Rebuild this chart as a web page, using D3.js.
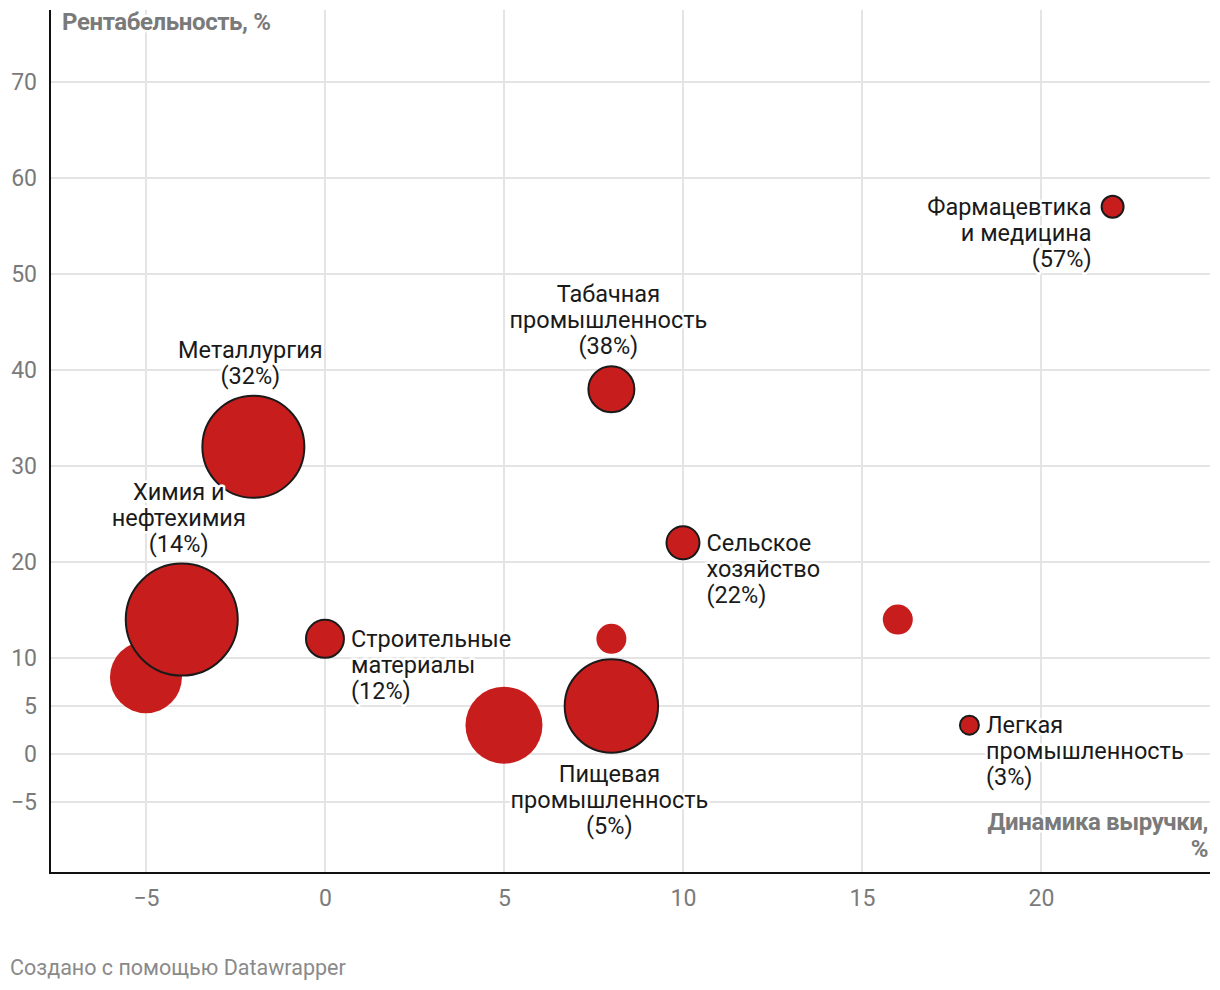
<!DOCTYPE html>
<html>
<head>
<meta charset="utf-8">
<script src="https://cdn.jsdelivr.net/npm/d3@7"></script>
<style>
  html, body { margin: 0; padding: 0; background: #fff; }
  svg { display: block; font-family: Roboto, "Noto Sans", sans-serif; }
</style>
</head>
<body>
<svg id="chart" width="1220" height="990"></svg>
<script>
// ---- data ----
const industries = ["Фармацевтика и медицина", "Табачная промышленность", "Металлургия", "Химия и нефтехимия",
  "", "Строительные материалы", "", "Пищевая промышленность", "", "Сельское хозяйство", "", "Легкая промышленность"];
const revenueGrowth = [22, 8, -2, -4, -5, 0, 5, 8, 8, 10, 16, 18];
const profitability = [57, 38, 32, 14, 8, 12, 3, 5, 12, 22, 14, 3];
const bubbleSize = [121, 529, 2601, 3136, 1296, 361, 1482, 2180, 225, 272, 225, 90];
const labelLines = [
  ["Фармацевтика", "и медицина", "(57%)"],
  ["Табачная", "промышленность", "(38%)"],
  ["Металлургия", "(32%)"],
  ["Химия и", "нефтехимия", "(14%)"],
  [],
  ["Строительные", "материалы", "(12%)"],
  [],
  ["Пищевая", "промышленность", "(5%)"],
  [],
  ["Сельское", "хозяйство", "(22%)"],
  [],
  ["Легкая", "промышленность", "(3%)"]
];
const labelSide = ["left", "top", "top", "top", "", "right", "", "bottom", "", "right", "", "right"];
const xTicks = [-5, 0, 5, 10, 15, 20];
const yTicks = [-5, 0, 5, 10, 20, 30, 40, 50, 60, 70];
const yTitle = "Рентабельность, %";
const xTitleLines = ["Динамика выручки,", "%"];
const footer = "Создано с помощью Datawrapper";

// ---- layout ----
const svg = d3.select("#chart");
const x = d3.scaleLinear().domain([-7.68, 24.72]).range([50, 1210]);
const y = d3.scaleLinear().domain([-12.4, 77.5]).range([873, 10]);
const r = d3.scaleSqrt().domain([0, 3136]).range([0, 56]);
const red = "#c71e1d";
const grid = "#e4e4e4";
const gray = "#7a7a7a";

const data = industries.map((name, i) => ({
  name, gx: revenueGrowth[i], py: profitability[i], size: bubbleSize[i],
  lines: labelLines[i], side: labelSide[i]
}));

// grid
svg.append("g").selectAll("line").data(yTicks).join("line")
  .attr("x1", 50).attr("x2", 1210)
  .attr("y1", d => y(d)).attr("y2", d => y(d))
  .attr("stroke", grid).attr("stroke-width", 2);
svg.append("g").selectAll("line").data(xTicks).join("line")
  .attr("x1", d => x(d)).attr("x2", d => x(d))
  .attr("y1", 10).attr("y2", 873)
  .attr("stroke", grid).attr("stroke-width", 2);

// y axis
const yAxis = d3.axisLeft(y).tickValues(yTicks).tickSize(0).tickPadding(13)
  .tickFormat(d => d < 0 ? "\u2212" + Math.abs(d) : d);
const gy = svg.append("g").attr("transform", "translate(50,0)").call(yAxis);
gy.select(".domain").remove();
gy.selectAll("text").attr("font-size", 23).attr("fill", gray).attr("font-family", "Roboto");

// x axis
const xAxis = d3.axisBottom(x).tickValues(xTicks).tickSize(0).tickPadding(17)
  .tickFormat(d => d < 0 ? "\u2212" + Math.abs(d) : d);
const gx = svg.append("g").attr("transform", "translate(0,873)").call(xAxis);
gx.select(".domain").remove();
gx.selectAll("text").attr("font-size", 23).attr("fill", gray).attr("font-family", "Roboto");

// axis lines
svg.append("line").attr("x1", 50).attr("x2", 50).attr("y1", 10).attr("y2", 874)
  .attr("stroke", "#111").attr("stroke-width", 2);
svg.append("line").attr("x1", 49).attr("x2", 1210).attr("y1", 873).attr("y2", 873)
  .attr("stroke", "#111").attr("stroke-width", 2);

// bubbles: unlabeled first, then labeled
const ordered = data.filter(d => !d.lines.length).concat(data.filter(d => d.lines.length));
svg.append("g").selectAll("circle").data(ordered).join("circle")
  .attr("cx", d => x(d.gx)).attr("cy", d => y(d.py)).attr("r", d => r(d.size))
  .attr("fill", red)
  .attr("stroke", d => d.lines.length ? "#1a1a1a" : "none")
  .attr("stroke-width", 2);

// labels
const lh = 26;
const lab = svg.append("g").attr("font-size", 23.5).attr("fill", "#1a1a1a");
data.filter(d => d.lines.length).forEach(d => {
  const cx = x(d.gx), cy = y(d.py), rr = r(d.size);
  let ax, ay, anchor;
  const n = d.lines.length;
  if (d.side === "right") { ax = cx + rr + 7; ay = cy; anchor = "start"; }
  else if (d.side === "left") { ax = cx - rr - 10; ay = cy; anchor = "end"; }
  else if (d.side === "top") { ax = cx - 3; ay = cy - rr - 20 - (n - 1) * lh; anchor = "middle"; }
  else { ax = cx - 2; ay = cy + rr + 21; anchor = "middle"; }
  const t = lab.append("text").attr("text-anchor", anchor)
    .attr("stroke", "#fff").attr("stroke-width", 5).attr("stroke-linejoin", "round")
    .attr("paint-order", "stroke");
  d.lines.forEach((ln, i) => {
    t.append("tspan").attr("x", ax).attr("y", ay + i * lh).attr("dy", "0.35em").text(ln);
  });
});

// titles
svg.append("text").attr("x", 62).attr("y", 22).attr("dy", "0.35em")
  .attr("font-size", 24).attr("font-weight", "bold").attr("fill", gray)
  .attr("stroke", "#fff").attr("stroke-width", 5).attr("paint-order", "stroke")
  .attr("letter-spacing", "-0.4px")
  .text(yTitle);
const xt = svg.append("text").attr("text-anchor", "end")
  .attr("font-size", 24).attr("font-weight", "bold").attr("fill", gray)
  .attr("stroke", "#fff").attr("stroke-width", 5).attr("paint-order", "stroke")
  .attr("letter-spacing", "-0.4px");
xTitleLines.forEach((ln, i) => {
  xt.append("tspan").attr("x", 1208).attr("y", 822 + i * 27).attr("dy", "0.35em").text(ln);
});

// footer
svg.append("text").attr("x", 10).attr("y", 967).attr("dy", "0.35em")
  .attr("font-size", 21.5).attr("fill", "#8a8a8a").text(footer);
</script>
</body>
</html>
